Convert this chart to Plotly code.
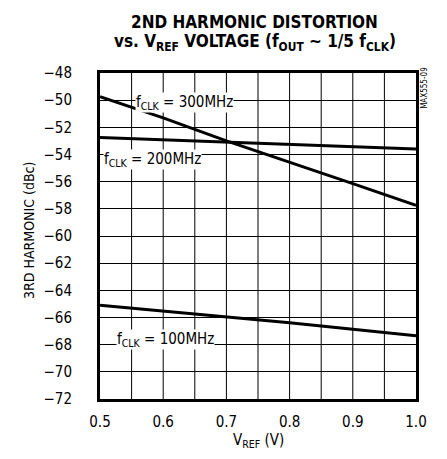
import plotly.graph_objects as go

vref = [0.5, 0.6, 0.7, 0.8, 0.9, 1.0]
h3_300 = [-49.75, -51.3, -53.0, -54.55, -56.15, -57.75]
h3_200 = [-52.75, -52.92, -53.05, -53.25, -53.4, -53.6]
h3_100 = [-65.1, -65.53, -66.0, -66.38, -66.87, -67.34]

x_ticks = [0.5, 0.6, 0.7, 0.8, 0.9, 1.0]
x_tick_text = ["0.5", "0.6", "0.7", "0.8", "0.9", "1.0"]
y_ticks = list(range(-72, -47, 2))

FONT = "DejaVu Sans Condensed, Liberation Sans Narrow, Arial, sans-serif"

fig = go.Figure()
for ys in (h3_300, h3_200, h3_100):
    fig.add_trace(go.Scatter(x=vref, y=ys, mode="lines",
                             line=dict(color="black", width=3), showlegend=False))

labels = [
    (0.555, -50.2, "f<sub>CLK</sub> = 300MHz"),
    (0.505, -54.4, "f<sub>CLK</sub> = 200MHz"),
    (0.526, -67.6, "f<sub>CLK</sub> = 100MHz"),
]
for x, y, t in labels:
    fig.add_annotation(x=x, y=y, text=t, showarrow=False, xanchor="left",
                       yanchor="middle", bgcolor="white", borderpad=0,
                       font=dict(family=FONT, size=15, color="black"))

fig.add_annotation(xref="paper", yref="paper", x=1.028, y=0.954, text="MAX555-09",
                   showarrow=False, textangle=-90, xanchor="center", yanchor="middle",
                   font=dict(family=FONT, size=8, color="black"))

# title lines
fig.add_annotation(xref="paper", yref="paper", x=0.49, y=1.156,
                   text="<b>2ND HARMONIC DISTORTION</b>", showarrow=False,
                   xanchor="center", yanchor="middle",
                   font=dict(family=FONT, size=17, color="black"))
fig.add_annotation(xref="paper", yref="paper", x=0.49, y=1.093,
                   text="<b>vs. V<sub>REF</sub> VOLTAGE (f<sub>OUT</sub> ~ 1/5 f<sub>CLK</sub>)</b>",
                   showarrow=False, xanchor="center", yanchor="middle",
                   font=dict(family=FONT, size=17, color="black"))
# axis titles
fig.add_annotation(xref="paper", yref="paper", x=-0.225, y=0.518,
                   text="3RD HARMONIC (dBc)", showarrow=False, textangle=-90,
                   xanchor="center", yanchor="middle",
                   font=dict(family=FONT, size=14, color="black"))
fig.add_annotation(xref="paper", yref="paper", x=0.50, y=-0.126,
                   text="V<sub>REF</sub> (V)", showarrow=False,
                   xanchor="center", yanchor="middle",
                   font=dict(family=FONT, size=15, color="black"))

fig.update_layout(
    width=431, height=443,
    margin=dict(l=92, r=14, t=65, b=52),
    paper_bgcolor="white", plot_bgcolor="white",
    xaxis=dict(range=[0.5, 1.0], tickvals=x_ticks, ticktext=x_tick_text,
               showgrid=False, zeroline=False,
               showline=True, linecolor="black", linewidth=3, mirror=True,
               ticks="", ticklabelstandoff=7,
               tickfont=dict(family=FONT, size=15, color="black")),
    yaxis=dict(range=[-72, -48], tickvals=y_ticks, showgrid=True,
               gridcolor="black", gridwidth=1, zeroline=False,
               showline=True, linecolor="black", linewidth=3, mirror=True,
               ticks="", ticklabelstandoff=22,
               tickfont=dict(family=FONT, size=15, color="black")),
)
# vertical grid every 0.05
for i in range(1, 10):
    xv = 0.5 + i * 0.05
    fig.add_shape(type="line", x0=xv, x1=xv, y0=-72, y1=-48, xref="x", yref="y",
                  line=dict(color="black", width=1), layer="below")

fig.write_html("out.html")
